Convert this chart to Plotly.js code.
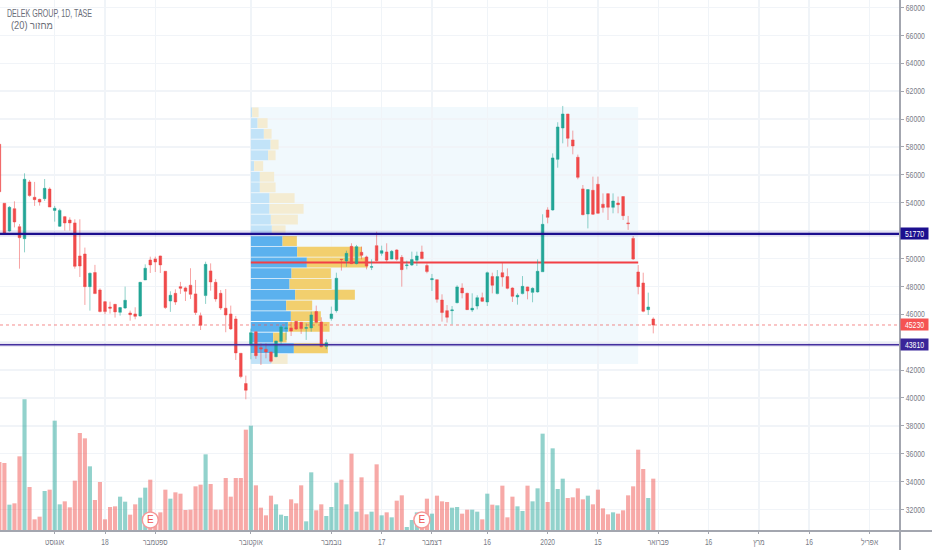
<!DOCTYPE html>
<html><head><meta charset="utf-8">
<script src="https://cdn.plot.ly/plotly-3.0.1.min.js"></script>
<style>html,body{margin:0;padding:0;background:#fff}#c{width:932px;height:550px}</style></head>
<body><div id="c"></div>
<script>
const firstIndex = -1;
const opens = [58190,53960,51970,53570,52280,51420,55490,54390,54240,54290,54980,53450,52310,53000,52760,52550,50180,50320,47980,48990,47740,46900,46520,46710,46140,46450,46090,46020,45880,48460,49890,49970,50180,49080,46950,47500,47980,47890,48080,47460,45900,47340,49110,48290,47500,46430,46020,45660,43200,41030,43800,44750,43600,43490,43300,42960,44060,44970,45020,45490,45420,44990,45020,46190,45450,43700,45690,46260,49940,49820,50870,49630,50440,50110,49370,50920,50370,50470,49960,50610,50080,49490,49530,49870,50470,49490,48480,48480,47020,46260,46260,46830,47880,47500,46310,46590,47190,46880,48700,47480,48980,48700,47880,47240,47480,47960,47570,47600,49050,53480,53480,57110,59360,60360,58500,57260,54990,53190,54890,55320,53890,54650,53670,53980,54440,52550,51440,49030,48240,46330,45660];
const closes = [54790,51810,53670,52620,51490,55680,54510,54220,54050,55030,53690,53600,53450,52550,52550,49440,49460,47980,48940,47480,46190,46190,46430,46170,46480,47000,45970,45850,48290,49300,49540,49750,49540,46480,47360,46880,47860,47650,47430,46120,45210,49580,48320,47100,46450,45950,44950,43230,41530,40550,44680,43030,43510,43300,42630,44080,45090,45020,44800,44940,44970,45040,45950,45420,43680,43960,46020,48580,49920,50370,49630,50850,50230,49460,49410,49840,50560,49890,50510,49940,49200,49530,49920,50180,49990,49060,48550,47070,46120,45780,46310,47960,47530,46330,46430,47190,46930,48980,48080,48700,48670,47860,47290,47360,48000,47670,47860,49080,52450,52950,57210,59430,60360,58620,58070,55820,53140,54940,53170,53240,53650,53670,54120,53860,53070,52500,49960,47980,46210,46520,45230];
const highs = [58190,53960,53760,54100,52470,56110,55630,55490,54290,55700,55100,53770,53570,53050,52950,52810,52810,50780,48990,49540,47860,46950,46900,46740,46520,47980,46260,46500,48320,49580,50130,50130,50200,49080,47650,47790,48320,47980,49300,48460,46120,49770,49650,48530,47740,47810,46620,45880,43200,41600,44970,44750,43920,43920,43300,44080,45230,45400,45470,45490,45420,45350,46190,46620,45780,44200,46550,48980,49940,50560,51090,50970,50850,50200,49940,51920,50920,51090,50610,50660,50250,49840,50490,50490,50920,49650,48890,48480,47430,46660,46590,48080,48220,47550,47500,47360,47550,49060,48980,49170,49700,49290,47930,47500,48740,47980,47930,49940,53170,53670,57540,59770,60940,60360,59170,57450,55270,54960,55870,55870,54670,54670,54670,54440,54440,53050,51610,49530,48980,47550,45780];
const lows = [54790,51690,51920,52230,49270,50440,54430,53770,53790,54120,53690,52640,52260,52000,52000,49270,48670,46670,46260,47480,46140,46000,46050,45760,45900,46380,45540,45640,45830,48460,48960,49030,48960,46380,46170,46670,47460,46950,47100,45950,44870,46740,47690,46900,46310,44710,44870,42720,41410,39900,42770,42800,42360,42840,42530,42910,43800,44160,44440,44870,44590,44160,44750,45350,43630,43490,45540,46120,49130,49410,49600,49580,49940,49220,49170,49770,50200,49720,49940,49840,47980,49220,49460,49460,49940,48940,47670,46830,45470,45400,45280,46780,47140,46310,46160,46350,46880,46590,47500,47430,47980,47790,46880,46690,47430,47070,46860,47550,49050,52520,53430,56510,58260,58020,57470,55680,53100,52160,53120,53220,53290,52760,53240,53240,52760,52050,49890,47430,46140,45950,44630];
const volumes = [207,204,79,83,224,395,132,35,43,120,124,331,80,89,71,151,294,278,194,93,147,35,72,74,103,88,49,80,100,130,154,42,56,124,97,116,112,63,64,134,139,230,141,64,64,159,103,159,159,304,316,137,70,47,106,80,49,45,95,83,137,29,176,62,80,45,72,145,154,80,232,58,161,50,58,200,47,56,41,91,107,12,33,56,57,97,52,106,89,87,70,72,52,64,64,58,35,112,79,77,136,41,103,74,60,136,89,128,292,87,248,126,157,99,101,128,95,106,80,124,68,50,56,52,62,107,134,244,186,99,157];

const profilePrices = [60480,59710,58940,58170,57400,56630,55860,55100,54330,53560,52790,52020,51250,50480,49710,48940,48170,47400,46630,45860,45090,44330,43560,42790];
const profileUp =   [1.3,6.7,13,19.7,17.3,3.3,9,9,18.7,18.7,20,21,31.7,46.3,56,40.7,38.7,44.3,35.3,40,37.3,22.3,43,20.7];
const profileDown = [6.4,10,7.7,8,7.4,9,14.3,15.7,25,34,27,13.7,14.3,64.7,61,39.3,42,59.7,26,30,41.4,13.4,34,16];
const valueAreaFlags = [0,0,0,0,0,0,0,0,0,0,0,0,1,1,1,1,1,1,1,1,1,1,1,0];

const tickIndex = [10,20,30,49,65,75,85,96,108,118,130,140,150,160,172];
const tickLabels = ['אוגוסט','18','ספטמבר','אוקטובר','נובמבר','17','דצמבר','16','2020','15','פברואר','16','מרץ','16','אפריל'];
const priceTicks = [32000,34000,36000,38000,40000,42000,44000,46000,48000,50000,52000,54000,56000,58000,60000,62000,64000,66000,68000];
const priceTickLabels = ['32000','34000','36000','38000','40000','42000','','46000','48000','50000','','54000','56000','58000','60000','62000','64000','66000','68000'];
const upperLevel = 51770, lowerLevel = 43810, lastPrice = 45230, pocPrice = 49710;
const profileStart = 49, profileEnd = 126, profileTop = 60860, profileBottom = 42430;
const earnings = [29, 83];
const earningsHeight = [33000, 33000];

const RED='#f04a4a', GREEN='#22a596', GREY='#787b86', AXIS='#a3a6af';
const FONT="'Liberation Sans',sans-serif";
const index = opens.map((_,i)=>firstIndex+i);
const pxPerBar = 5.03;

const toBars = a => a.map(v=>v/pxPerBar);
const upBars = toBars(profileUp), downBars = toBars(profileDown);

const traces = [
 {type:'bar',orientation:'h',y:profilePrices,x:upBars,base:profilePrices.map(()=>profileStart),width:705,
  marker:{color:valueAreaFlags.map(f=>f?'#5bb1ee':'#c2e3f8'),line:{width:0}},hoverinfo:'skip',xaxis:'x',yaxis:'y'},
 {type:'bar',orientation:'h',y:profilePrices,x:downBars,base:upBars.map(v=>profileStart+v),width:705,
  marker:{color:valueAreaFlags.map(f=>f?'#f2cf6e':'#f4ecd2'),line:{width:0}},hoverinfo:'skip',xaxis:'x',yaxis:'y'},
 {type:'bar',orientation:'h',y:[pocPrice],x:[profileEnd-profileStart],base:[profileStart],width:150,
  marker:{color:'#f23f45',line:{width:0}},hoverinfo:'skip',xaxis:'x',yaxis:'y'},
 {type:'candlestick',x:index,open:opens,high:highs,low:lows,close:closes,whiskerwidth:0,
  increasing:{line:{color:'rgba(34,165,150,0.5)',width:1},fillcolor:GREEN},
  decreasing:{line:{color:'rgba(240,74,74,0.5)',width:1},fillcolor:RED},
  hoverinfo:'skip',xaxis:'x',yaxis:'y'},
 {type:'bar',x:index,y:volumes.map(v=>v*1000),width:0.82,
  marker:{color:opens.map((o,i)=>closes[i]>=o?'rgba(38,166,154,0.5)':'rgba(240,83,80,0.5)'),line:{width:0}},
  hoverinfo:'skip',xaxis:'x',yaxis:'y2'},
 {type:'scatter',mode:'markers+text',x:earnings,y:earningsHeight,text:['E','E'],textposition:'middle center',
  textfont:{family:FONT,size:10,color:'#ef5350'},
  marker:{size:16,color:'#fff',line:{color:'#f59a9a',width:1.5}},hoverinfo:'skip',xaxis:'x',yaxis:'y2'}
];

const priceTag = (v,bg)=>({xref:'paper',yref:'y',x:1,y:v,xanchor:'left',yanchor:'middle',text:String(v),showarrow:false,
  bgcolor:bg,width:27,height:11,borderpad:0,align:'center',font:{family:FONT,size:9,color:'#fff'}});
const hline = (v,c,w,dash)=>({type:'line',xref:'paper',x0:0,x1:1,yref:'y',y0:v,y1:v,layer:'above',line:{color:c,width:w,dash:dash||'solid'}});

const layout = {
 width:932,height:550,paper_bgcolor:'#fff',plot_bgcolor:'#fff',showlegend:false,
 margin:{l:0,r:32,t:0,b:19,pad:0},
 barmode:'overlay',boxmode:'overlay',boxgap:0.25,
 xaxis:{type:'linear',range:[-0.875,178.05],rangeslider:{visible:false},fixedrange:true,tickmode:'array',tickvals:tickIndex,ticktext:tickLabels,
  showgrid:true,gridcolor:'#f0f4f8',gridwidth:1.5,zeroline:false,showline:false,ticks:'outside',ticklen:2,tickcolor:AXIS,
  tickfont:{family:FONT,size:9,color:GREY}},
 yaxis:{type:'linear',side:'right',range:[30455,68538],fixedrange:true,tickmode:'array',tickvals:priceTicks,ticktext:priceTickLabels,
  showgrid:true,gridcolor:'#f1f4f8',gridwidth:1.5,zeroline:false,showline:false,ticks:'outside',ticklen:3,tickcolor:AXIS,
  tickfont:{family:FONT,size:9,color:GREY}},
 yaxis2:{overlaying:'y',side:'right',range:[0,1593000],fixedrange:true,showgrid:false,zeroline:false,showticklabels:false,ticks:''},
 shapes:[
  {type:'rect',xref:'x',yref:'y',x0:profileStart,x1:profileEnd,y0:profileBottom,y1:profileTop,layer:'below',fillcolor:'#f1f9fd',line:{width:0}},
  hline(upperLevel,'rgba(30,20,150,0.12)',6),
  hline(upperLevel,'#1c0f8f',2.2),
  hline(lowerLevel,'rgba(60,30,160,0.12)',4),
  hline(lowerLevel,'#44309f',1.4),
  hline(lastPrice,'rgba(240,80,80,0.65)',1,'dot'),
  {type:'line',xref:'paper',yref:'paper',x0:1,x1:1,y0:-19/531,y1:1,layer:'above',line:{color:AXIS,width:2}},
  {type:'line',xref:'paper',yref:'paper',x0:0,x1:932/900,y0:0,y1:0,layer:'above',line:{color:AXIS,width:2}}
 ],
 annotations:[
  priceTag(upperLevel,'#1c0f8f'),priceTag(lastPrice,'#f55353'),priceTag(lowerLevel,'#3a2699'),
  {xref:'paper',yref:'paper',x:5/900,y:1-13/531,xanchor:'left',yanchor:'middle',showarrow:false,text:'DELEK GROUP, 1D, TASE',font:{family:FONT,size:10.5,color:'#6a6d78'}},
  {xref:'paper',yref:'paper',x:9/900,y:1-25/531,xanchor:'left',yanchor:'middle',showarrow:false,text:'(20) מחזור',font:{family:FONT,size:10.5,color:'#6a6d78'}}
 ]
};
const squeeze = (el,k)=>{
  const w = el.getComputedTextLength();
  if(w>0){ el.setAttribute('textLength',(w*k).toFixed(1)); el.setAttribute('lengthAdjust','spacingAndGlyphs'); }
  return w;
};
Plotly.newPlot('c',traces,layout,{displayModeBar:false,staticPlot:true}).then(gd=>{
  gd.querySelectorAll('.xtick text').forEach(t=>squeeze(t,0.74));
  gd.querySelectorAll('.ytick text').forEach(t=>squeeze(t,0.76));
  const notes = gd.querySelectorAll('.annotation-text');
  [0.76,0.76,0.76].forEach((k,i)=>{ if(notes[i]) squeeze(notes[i],k); });
  [[3,0.675],[4,0.88]].forEach(([i,k])=>{
    if(notes[i]){ const w=squeeze(notes[i],k); notes[i].setAttribute('transform','translate('+(-(w*(1-k)/2)).toFixed(1)+',0)'); }
  });
});
</script></body></html>
